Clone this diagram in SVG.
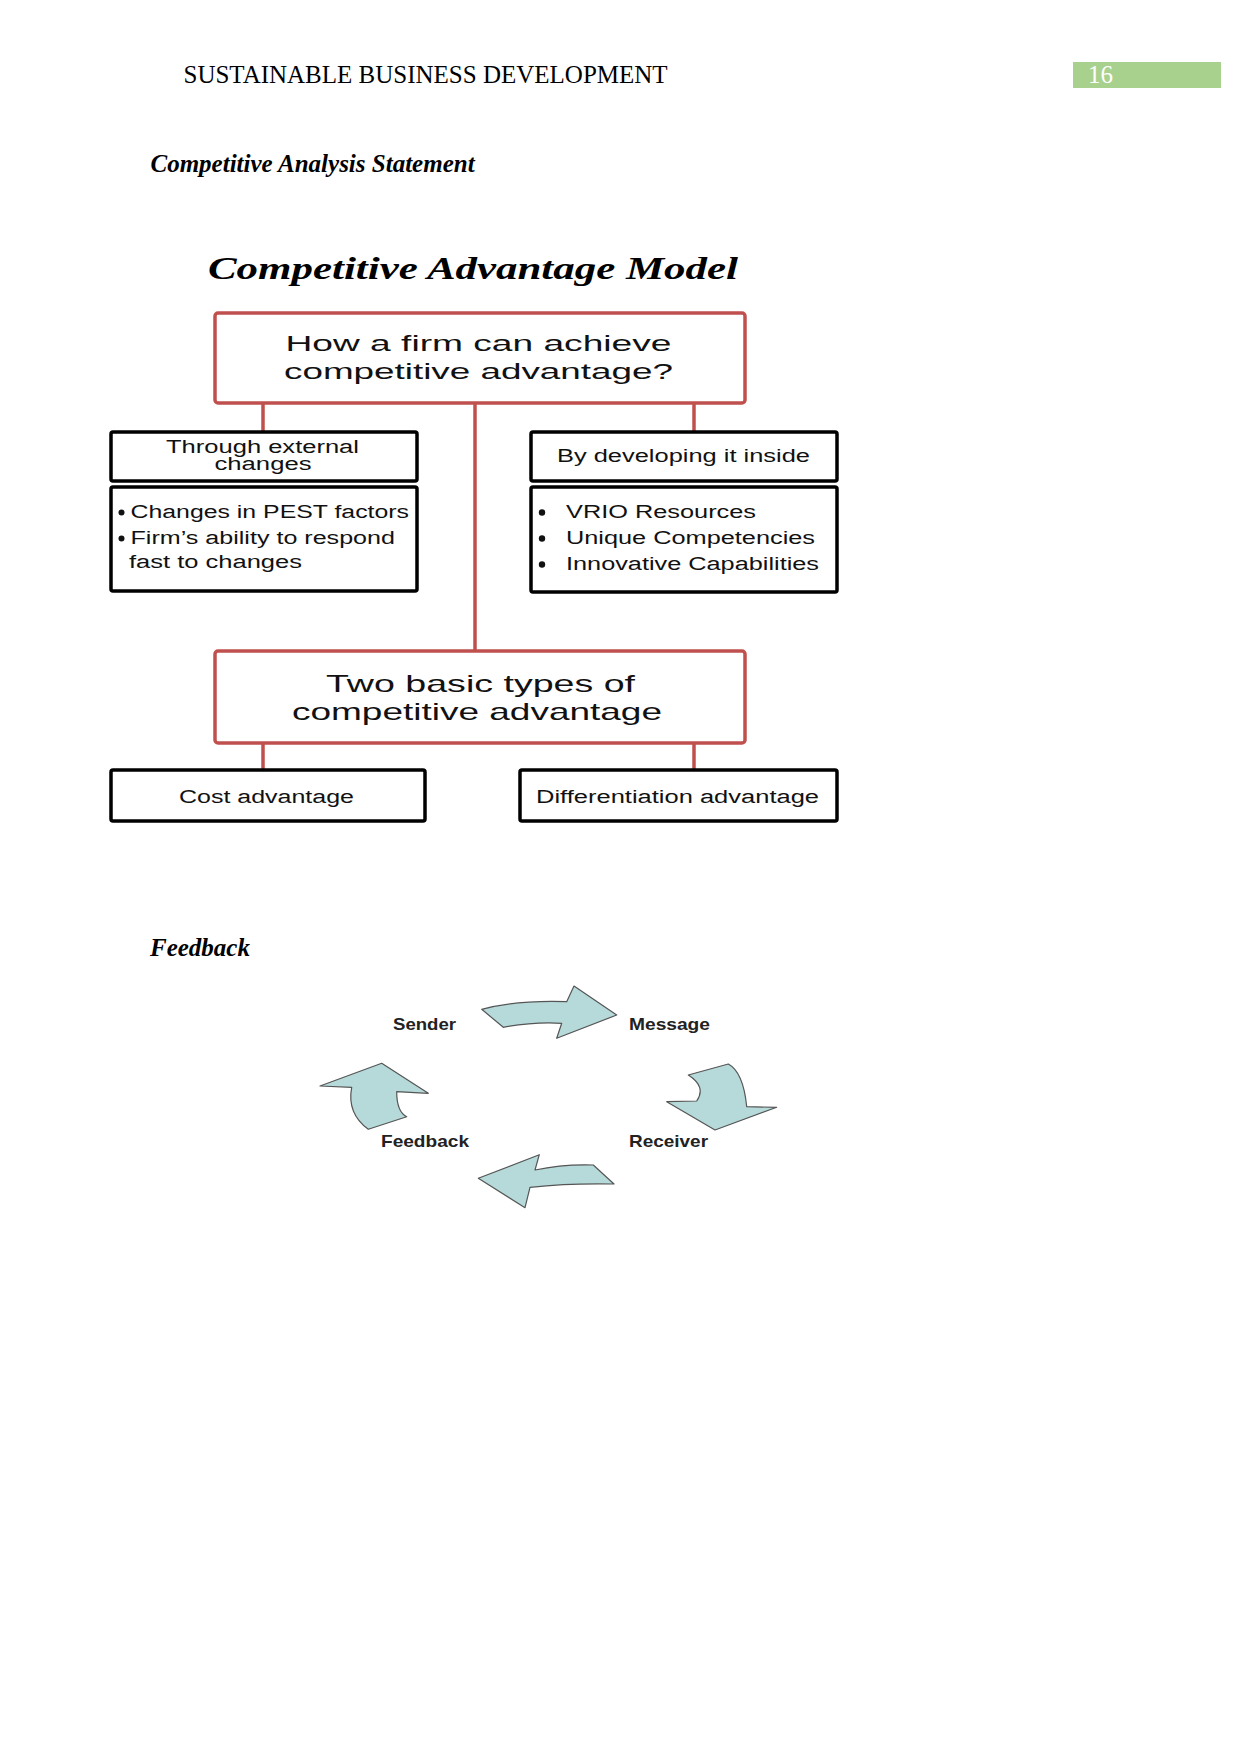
<svg xmlns="http://www.w3.org/2000/svg" width="1241" height="1754" viewBox="0 0 1241 1754">
<style>
.hdr{font-family:"Liberation Serif","Times New Roman",serif;font-size:25px;fill:#000}
.bi{font-family:"Liberation Serif","Times New Roman",serif;font-size:25px;font-weight:bold;font-style:italic;fill:#000}
.t{font-family:"Liberation Sans",Arial,sans-serif;fill:#111}
.red{fill:#fff;stroke:#c0504d;stroke-width:3.5}
.blk{fill:#fff;stroke:#000;stroke-width:3.5}
.con{stroke:#c0504d;stroke-width:3.5;fill:none}
.arr{fill:#b6dada;stroke:#555;stroke-width:1.2;stroke-linejoin:round}
.lbl{font-family:"Liberation Sans",Arial,sans-serif;font-weight:bold;font-size:17px;fill:#222}
.dot{fill:#111}
</style>
<rect width="1241" height="1754" fill="#fff"/>
<text class="hdr" x="183.5" y="83">SUSTAINABLE BUSINESS DEVELOPMENT</text>
<rect x="1073" y="62" width="148" height="26" fill="#a9d18e"/>
<text class="hdr" x="1088" y="83" style="fill:#fff">16</text>
<text class="bi" x="150.5" y="172">Competitive Analysis Statement</text>
<text x="208" y="279" textLength="530" lengthAdjust="spacingAndGlyphs" style="font-family:'Liberation Serif',serif;font-size:31px;font-weight:bold;font-style:italic;fill:#000">Competitive Advantage Model</text>

<g id="connectors">
<line class="con" x1="475" y1="404" x2="475" y2="651"/>
<line class="con" x1="263" y1="404" x2="263" y2="432"/>
<line class="con" x1="694" y1="404" x2="694" y2="432"/>
<line class="con" x1="263" y1="743" x2="263" y2="770"/>
<line class="con" x1="694" y1="743" x2="694" y2="770"/>
</g>

<g id="n-top">
<rect class="red" x="215" y="313" width="530" height="90" rx="3"/>
<text class="t" x="285.5" y="351" font-size="22.5" textLength="386" lengthAdjust="spacingAndGlyphs">How a firm can achieve</text>
<text class="t" x="284" y="379" font-size="22.5" textLength="389" lengthAdjust="spacingAndGlyphs">competitive advantage?</text>
</g>
<g id="n-ext">
<rect class="blk" x="111" y="432" width="306" height="49" rx="2"/>
<text class="t" x="166" y="453" font-size="18" textLength="193" lengthAdjust="spacingAndGlyphs">Through external</text>
<text class="t" x="214.5" y="470" font-size="18" textLength="97" lengthAdjust="spacingAndGlyphs">changes</text>
</g>
<g id="n-ext-list">
<rect class="blk" x="111" y="487" width="306" height="104" rx="2"/>
<circle class="dot" cx="121.5" cy="512.5" r="3"/>
<circle class="dot" cx="121.5" cy="538.5" r="3"/>
<text class="t" x="130.5" y="518" font-size="18" textLength="278.5" lengthAdjust="spacingAndGlyphs">Changes in PEST factors</text>
<text class="t" x="130.5" y="544" font-size="18" textLength="264.5" lengthAdjust="spacingAndGlyphs">Firm’s ability to respond</text>
<text class="t" x="129" y="568" font-size="18" textLength="173" lengthAdjust="spacingAndGlyphs">fast to changes</text>
</g>
<g id="n-int">
<rect class="blk" x="531" y="432" width="306" height="49" rx="2"/>
<text class="t" x="557" y="462" font-size="18" textLength="253" lengthAdjust="spacingAndGlyphs">By developing it inside</text>
</g>
<g id="n-int-list">
<rect class="blk" x="531" y="487" width="306" height="105" rx="2"/>
<circle class="dot" cx="542" cy="512.5" r="3.2"/>
<circle class="dot" cx="542" cy="538.5" r="3.2"/>
<circle class="dot" cx="542" cy="564.5" r="3.2"/>
<text class="t" x="566" y="518" font-size="18" textLength="190" lengthAdjust="spacingAndGlyphs">VRIO Resources</text>
<text class="t" x="566" y="544" font-size="18" textLength="249" lengthAdjust="spacingAndGlyphs">Unique Competencies</text>
<text class="t" x="566" y="570" font-size="18" textLength="253" lengthAdjust="spacingAndGlyphs">Innovative Capabilities</text>
</g>
<g id="n-types">
<rect class="red" x="215" y="651" width="530" height="92" rx="3"/>
<text class="t" x="326" y="692" font-size="24" textLength="309" lengthAdjust="spacingAndGlyphs">Two basic types of</text>
<text class="t" x="292" y="720" font-size="24" textLength="370" lengthAdjust="spacingAndGlyphs">competitive advantage</text>
</g>
<g id="n-cost">
<rect class="blk" x="111" y="770" width="314" height="51" rx="2"/>
<text class="t" x="179" y="803" font-size="18" textLength="175" lengthAdjust="spacingAndGlyphs">Cost advantage</text>
</g>
<g id="n-diff">
<rect class="blk" x="520" y="770" width="317" height="51" rx="2"/>
<text class="t" x="536" y="803" font-size="18" textLength="283" lengthAdjust="spacingAndGlyphs">Differentiation advantage</text>
</g>

<text class="bi" x="150" y="956">Feedback</text>

<g id="cycle-arrows">
<path class="arr" d="M481.7,1009.3 Q516.7,1000 566.7,1001.7 L574,986 L616.7,1015 L556.7,1038.3 L561.7,1023.3 Q533.3,1021.7 503.3,1027.3 Z"/>
<path class="arr" d="M688.3,1075 L728.3,1064 Q743.3,1072 746.7,1106.7 L776.7,1107.3 L715,1130 L666.7,1101.7 L696.7,1101 Q706.7,1086.7 688.3,1075 Z"/>
<path class="arr" d="M478.3,1178.3 L539.3,1154.7 L535,1170 Q563,1164 593.3,1165 L614,1184 Q570,1183 530,1187.3 L525,1207.7 Z"/>
<path class="arr" d="M381.7,1063.3 L428.3,1093.3 L396.7,1091.7 Q396.7,1111.7 406.7,1116.7 L368.3,1129.3 Q346.7,1113.3 351.7,1087.3 L320,1086 Z"/>
</g>
<g id="n-sender"><text class="lbl" x="393" y="1030" textLength="63" lengthAdjust="spacingAndGlyphs">Sender</text></g>
<g id="n-message"><text class="lbl" x="629" y="1030" textLength="81" lengthAdjust="spacingAndGlyphs">Message</text></g>
<g id="n-receiver"><text class="lbl" x="629" y="1147" textLength="79" lengthAdjust="spacingAndGlyphs">Receiver</text></g>
<g id="n-feedback"><text class="lbl" x="381" y="1147" textLength="88" lengthAdjust="spacingAndGlyphs">Feedback</text></g>
</svg>
